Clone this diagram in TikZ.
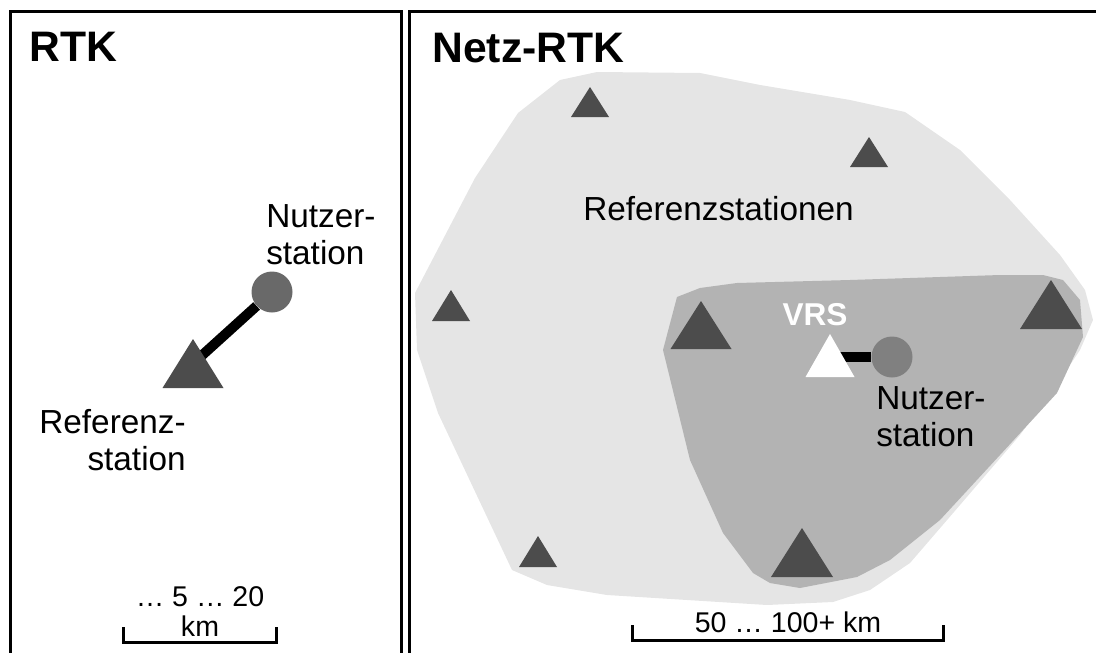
\documentclass[tikz,border=0pt]{standalone}
\usepackage{fontspec}
\setmainfont{Liberation Sans}

\definecolor{stationgrey}{gray}{0.30}
\definecolor{outerarea}{gray}{0.898}
\definecolor{innerarea}{gray}{0.702}
\definecolor{userdotL}{gray}{0.41}
\definecolor{userdotR}{gray}{0.50}

\pgfdeclarelayer{areas}
\pgfdeclarelayer{links}
\pgfsetlayers{areas,links,main}

% station triangle: [fill] name, x, apex y, half width, height
\newcommand{\refstation}[6][stationgrey]{%
  \coordinate (#2) at (#3,{#4+#6/2});
  \fill[#1] (#3,#4) -- ({#3+#5},{#4+#6}) -- ({#3-#5},{#4+#6}) -- cycle;}

\begin{document}
\begin{tikzpicture}[x=0.75pt, y=-0.75pt,
  title/.style={font=\fontsize{32}{38}\selectfont\bfseries, inner sep=0pt, anchor=base west},
  caption/.style={font=\fontsize{25}{27.75}\selectfont, inner sep=0pt},
  scaletext/.style={font=\fontsize{21.4}{22.5}\selectfont, inner sep=0pt},
  frame/.style={line width=2.25pt},
  link/.style={line width=7.5pt},
  user/.style={circle, inner sep=0pt, minimum size=30.75pt},
  scalebar/.style={line width=2.25pt}]

\useasboundingbox (0,0) rectangle (1096,653);
\clip (0,0) rectangle (1096,653);

% network areas
\begin{pgfonlayer}{areas}
  \fill[outerarea] (597,72) -- (700,73) -- (760,85) -- (850,100) -- (905,112)
    -- (960,150) -- (1010,200) -- (1060,255) -- (1085,290) -- (1093,320)
    -- (1080,350) -- (1060,380) -- (1020,435) -- (960,505) -- (910,563)
    -- (870,590) -- (833,602) -- (767,605) -- (607,595) -- (547,585)
    -- (512,570) -- (438,413) -- (417,350) -- (415,293) -- (475,178)
    -- (518,113) -- (560,80) -- cycle;
  \fill[innerarea] (700,288) -- (737,283) -- (850,280) -- (1000,275)
    -- (1043,275) -- (1063,280) -- (1080,300) -- (1083,337) -- (1057,393)
    -- (1000,455) -- (940,520) -- (890,560) -- (857,577) -- (800,588)
    -- (770,583) -- (753,573) -- (723,533) -- (690,460) -- (663,350)
    -- (677,297) -- cycle;
\end{pgfonlayer}

% RTK
\refstation{refL}{193}{339}{30.5}{49}
\node[user, fill=userdotL] (userL) at (272,292) {};

% Netz-RTK
\refstation{ref1}{590}{87}{19}{30}
\refstation{ref2}{869}{137}{19}{30}
\refstation{ref3}{451}{290}{19}{31}
\refstation{ref4}{538}{536}{19}{31}
\refstation{ref5}{701}{301}{30.5}{48}
\refstation{ref6}{1051}{280}{31}{49}
\refstation{ref7}{802}{528}{31}{49}
\refstation[white]{vrs}{830}{334}{24.5}{43}
\node[user, fill=userdotR] (userR) at (892,357) {};

\begin{pgfonlayer}{links}
  \draw[link] (userL) -- (refL);
  \draw[link] (userR) -- (userR -| vrs);
\end{pgfonlayer}

% labels
\node[title] (rtk) at (29,61) {RTK};
\node[title] (netzrtk) at (432,62) {Netz-RTK};
\node[caption, align=left, anchor=north west] (userLlabel) at (266,204) {Nutzer-\\station};
\node[caption, align=right, anchor=north east] (refLlabel) at (186,409) {Referenz-\\station};
\node[caption, anchor=base west] (reflabel) at (583,220) {Referenzstationen};
\node[caption, align=left, anchor=north west] (userRlabel) at (876,386) {Nutzer-\\station};
\node[font=\fontsize{23.7}{28}\selectfont\bfseries, text=white, inner sep=0pt, anchor=base] (vrslabel) at (815,325) {VRS};

% scale bars
\node[scaletext, align=center, anchor=north] (scaleLtext) at (200,586) {… 5 … 20\\km};
\draw[scalebar] (123,627) -- (123,642) -- (276,642) -- (276,627);
\node[scaletext, anchor=base] (scaleRtext) at (788,632) {50 … 100+ km};
\draw[scalebar] (632,625) -- (632,640) -- (943,640) -- (943,625);

% frames
\draw[frame] (10,700) -- (10,11) -- (401,11) -- (401,700);
\draw[frame] (409,700) -- (409,11) -- (1120,11);

\end{tikzpicture}
\end{document}
